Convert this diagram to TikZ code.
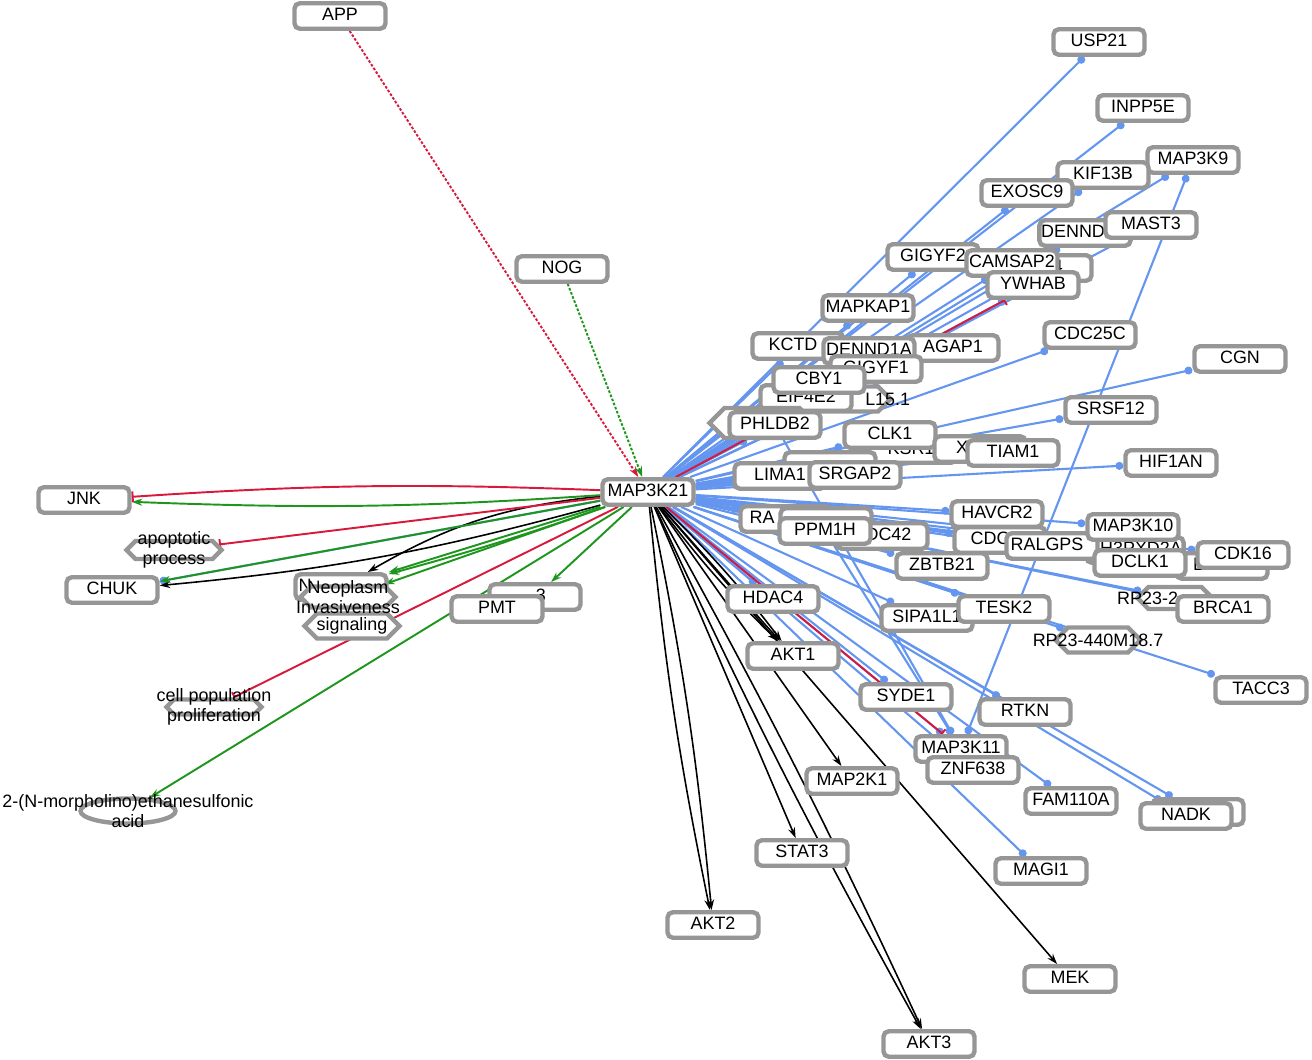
\documentclass[tikz,border=0pt]{standalone}
\usepackage{fontspec}
\setmainfont{Liberation Sans}
\usetikzlibrary{arrows.meta, shapes.geometric, shapes.symbols}

\definecolor{boxgray}{RGB}{150,150,150}
\definecolor{linkblue}{RGB}{100,150,240}
\definecolor{linkgreen}{RGB}{30,150,30}
\definecolor{linkred}{RGB}{215,25,60}

\pgfdeclarelayer{edges}
\pgfsetlayers{edges,main}

\tikzset{
  gene/.style={draw=boxgray, line width=2.5pt, fill=white, rounded corners=3pt,
    minimum width=1.82cm, minimum height=0.51cm, inner sep=1pt,
    text height=7.4pt, text depth=1.9pt, font=\fontsize{10.2}{12}\selectfont},
  hexa/.style={signal, signal to=east and west, draw=boxgray, line width=2.5pt,
    fill=white, inner sep=0pt, minimum width=1.9cm, minimum height=#1},
  hexa/.default=0.4cm,
  txt/.style={align=center, font=\fontsize{10.2}{11.5}\selectfont, inner sep=0pt},
  bluelink/.style={linkblue, line width=1.2pt, -{Circle[length=4.5pt]}},
  greenlink/.style={linkgreen, line width=1.1pt, -{Stealth[length=6pt, width=4pt]}},
  redlink/.style={linkred, line width=1.1pt, -{Bar[width=6pt]}},
  blacklink/.style={black, line width=0.9pt, -{Stealth[length=6pt, width=4pt]}},
}

\begin{document}
\begin{tikzpicture}[x=0.02cm, y=-0.02cm]
  \useasboundingbox (0,0) rectangle (1312,1060);

  % left part
  \node[gene] (app) at (340,16) {APP};
  \node[gene] (nog) at (562,269) {NOG};
  \node[gene] (jnk) at (84,500) {JNK};
  \node[gene] (chuk) at (112,590) {CHUK};
  \node[hexa=0.36cm, label={[txt]center:{apoptotic\\process}}] (apoptotic) at (174,550) {};
  \node[gene] (nbox) at (341,587) {N\phantom{XXXXXX}};
  \node[hexa=0.5cm, label={[txt]center:signaling}] (signaling) at (352,626) {};
  \node[hexa=0.42cm, label={[txt]center:{Neoplasm\\Invasiveness}}] (neoplasm) at (348,597) {};
  \node[gene] (box3) at (535,597) {\phantom{A}3};
  \node[gene] (pmt) at (497,609) {PMT};
  \node[hexa=0.3cm, label={[txt]center:{cell population\\proliferation}}] (cellpop) at (214,707) {};
  \node[ellipse, draw=boxgray, line width=2.5pt, fill=white, minimum width=1.9cm,
    minimum height=0.5cm, inner sep=0pt,
    label={[txt]center:{2-(N-morpholino)ethanesulfonic\\acid}}] (mes) at (128,811) {};

  % hub
  \node[gene] (map3k21) at (648,492) {MAP3K21};

  % upper right
  \node[gene] (usp21) at (1099,42) {USP21};
  \node[gene] (inpp5e) at (1143,108) {INPP5E};
  \node[gene] (map3k9) at (1193,160) {MAP3K9};
  \node[gene] (kif13b) at (1103,175) {KIF13B};
  \node[gene] (exosc9) at (1027,193) {EXOSC9};
  \node[gene] (dennd) at (1085,233) {DENND\phantom{XX}};
  \node[gene] (mast3) at (1151,225) {MAST3};
  \node[gene] (gigyf2) at (933,257) {GIGYF2};
  \node[gene] (box4) at (1046,268) {\phantom{AA}4};
  \node[gene] (camsap2) at (1012,263) {CAMSAP2};
  \node[gene] (ywhab) at (1033,285) {YWHAB};
  \node[gene] (mapkap1) at (868,308) {MAPKAP1};
  \node[gene] (cdc25c) at (1090,335) {CDC25C};
  \node[gene] (kctd) at (798,346) {KCTD\phantom{1}};
  \node[gene] (agap1) at (953,348) {AGAP1};
  \node[gene] (dennd1a) at (869,351) {DENND1A};
  \node[gene] (gigyf1) at (876,369) {GIGYF1};
  \node[gene] (cgn) at (1240,359) {CGN};
  \node[hexa=0.5cm, label={[txt]center:\phantom{RP11-0000}L15.1}] (lhex) at (843,399) {};
  \node[gene] (eif4e2) at (806,398) {EIF4E2};
  \node[gene] (cby1) at (819,380) {CBY1};
  \node[hexa=0.6cm, minimum width=2.1cm] (phlhex) at (762,423) {};
  \node[gene] (phldb2) at (775,425) {PHLDB2};
  \node[gene] (srsf12) at (1111,410) {SRSF12};
  \node[gene] (ksr1) at (911,450) {KSR1};
  \node[gene] (clk1) at (890,435) {CLK1};
  \node[gene] (xbox) at (980,449) {X\phantom{XXX}};
  \node[gene] (tiam1) at (1013,453) {TIAM1};
  \node[gene] (hif1an) at (1171,463) {HIF1AN};
  \node[gene] (hidbox) at (830,465) {};
  \node[gene] (lima1) at (780,476) {LIMA1};
  \node[gene] (srgap2) at (855,475) {SRGAP2};

  % middle right
  \node[gene] (havcr2) at (997,514) {HAVCR2};
  \node[gene] (rabox) at (786,519) {RA\phantom{XXXX}};
  \node[gene] (ppbox) at (826,521) {};
  \node[gene] (cdc42) at (882,536) {CDC42};
  \node[gene] (ppm1h) at (825,531) {PPM1H};
  \node[gene] (cdcbox) at (1000,540) {CDC\phantom{42}};
  \node[gene] (shbox) at (1135,550) {SH3PXD2A};
  \node[gene] (ralgps) at (1052,546) {RALGPS\phantom{2}};
  \node[gene] (map3k10) at (1133,527) {MAP3K10};
  \node[gene] (lbox) at (1222,566) {L\phantom{XXXX}};
  \node[gene] (dclk1) at (1140,563) {DCLK1};
  \node[gene] (cdk16) at (1243,555) {CDK16};
  \node[gene] (zbtb21) at (942,566) {ZBTB21};
  \node[hexa=0.44cm, minimum width=1.5cm, label={[txt]center:RP23-2\phantom{00000.}}] (rphex) at (1175,598) {};
  \node[gene] (brca1) at (1223,609) {BRCA1};
  \node[gene] (hdac4) at (773,599) {HDAC4};
  \node[gene] (sipa1l1) at (927,618) {SIPA1L1};
  \node[gene] (tesk2) at (1004,609) {TESK2};
  \node[hexa=0.5cm, minimum width=1.7cm, label={[txt]center:RP23-440M18.7}] (rp23hex) at (1098,640) {};

  % lower right
  \node[gene] (akt1) at (793,656) {AKT1};
  \node[gene] (tacc3) at (1261,690) {TACC3};
  \node[gene] (syde1) at (906,697) {SYDE1};
  \node[gene] (rtkn) at (1025,712) {RTKN};
  \node[gene] (map3k11) at (961,749) {MAP3K11};
  \node[gene] (znf638) at (973,770) {ZNF638};
  \node[gene] (map2k1) at (852,781) {MAP2K1};
  \node[gene] (fam110a) at (1071,801) {FAM110A};
  \node[gene] (nadkbox) at (1198,812) {};
  \node[gene] (nadk) at (1186,816) {NADK};
  \node[gene] (stat3) at (802,853) {STAT3};
  \node[gene] (magi1) at (1041,871) {MAGI1};
  \node[gene] (akt2) at (713,925) {AKT2};
  \node[gene] (mek) at (1070,979) {MEK};
  \node[gene] (akt3) at (929,1044) {AKT3};

  \begin{pgfonlayer}{edges}
    % blue interactions
    \foreach \t in {usp21,inpp5e,map3k9,kif13b,exosc9,dennd,mast3,gigyf2,box4,camsap2,
        ywhab,mapkap1,cdc25c,kctd,dennd1a,agap1,gigyf1,cgn,cby1,eif4e2,lhex,phldb2,
        srsf12,clk1,ksr1,xbox,tiam1,hif1an,lima1,srgap2,hidbox,havcr2,rabox,ppbox,
        ppm1h,cdc42,cdcbox,ralgps,shbox,map3k10,dclk1,lbox,cdk16,zbtb21,rphex,brca1,
        hdac4,sipa1l1,tesk2,rp23hex,tacc3,syde1,rtkn,map3k11,znf638,fam110a,nadkbox,
        nadk,magi1,chuk}
      \draw[bluelink] (map3k21) -- (\t);
    \draw[bluelink, {Circle[length=4.5pt]}-{Circle[length=4.5pt]}] (map3k11) -- (map3k9);
    \draw[bluelink] (ppm1h) -- (map3k11);
    \draw[bluelink] (phldb2) -- (map3k11);

    % black arrows
    \draw[blacklink] (map3k21) to[bend left=3] (akt2);
    \draw[blacklink] (map3k21) to[bend right=3] (akt2);
    \draw[blacklink] (map3k21) to[bend left=2] (akt3);
    \draw[blacklink] (map3k21) to[bend right=2] (akt3);
    \draw[blacklink] (map3k21) -- (akt1);
    \draw[blacklink] (map3k21) to[bend left=4] (akt1);
    \draw[blacklink] (map3k21) to[bend right=4] (akt1);
    \draw[blacklink] (map3k21) -- (stat3);
    \draw[blacklink] (map3k21) -- (map2k1);
    \draw[blacklink] (map3k21) -- (mek);
    \draw[blacklink] (map3k21) to[bend left=5] (chuk);
    \draw[blacklink] (map3k21) to[bend right=12] (nbox);

    % green arrows
    \draw[greenlink] (map3k21) to[bend left=3] (jnk);
    \draw[greenlink] (map3k21) -- (chuk);
    \draw[greenlink] (map3k21) -- (nbox);
    \draw[greenlink] (map3k21) to[bend left=2] (nbox);
    \draw[greenlink] (map3k21) -- (neoplasm);
    \draw[greenlink] (map3k21) -- (box3);
    \draw[greenlink] (map3k21) -- (mes);

    % red inhibitions
    \draw[redlink] (map3k21) to[bend right=3] (jnk);
    \draw[redlink] (map3k21) -- (apoptotic);
    \draw[redlink] (map3k21) -- (cellpop);
    \draw[redlink] (map3k21) -- (map3k11);
    \draw[redlink] (map3k21) -- (ywhab);

    % dotted regulators
    \draw[linkred, line width=1.1pt, dash pattern=on 1.5pt off 1pt,
      -{Stealth[length=6pt, width=4pt]}] (app) -- (map3k21);
    \draw[linkgreen, line width=1.1pt, dash pattern=on 1.5pt off 1pt,
      -{Stealth[length=6pt, width=4pt]}] (nog) -- (map3k21);
  \end{pgfonlayer}
\end{tikzpicture}
\end{document}
